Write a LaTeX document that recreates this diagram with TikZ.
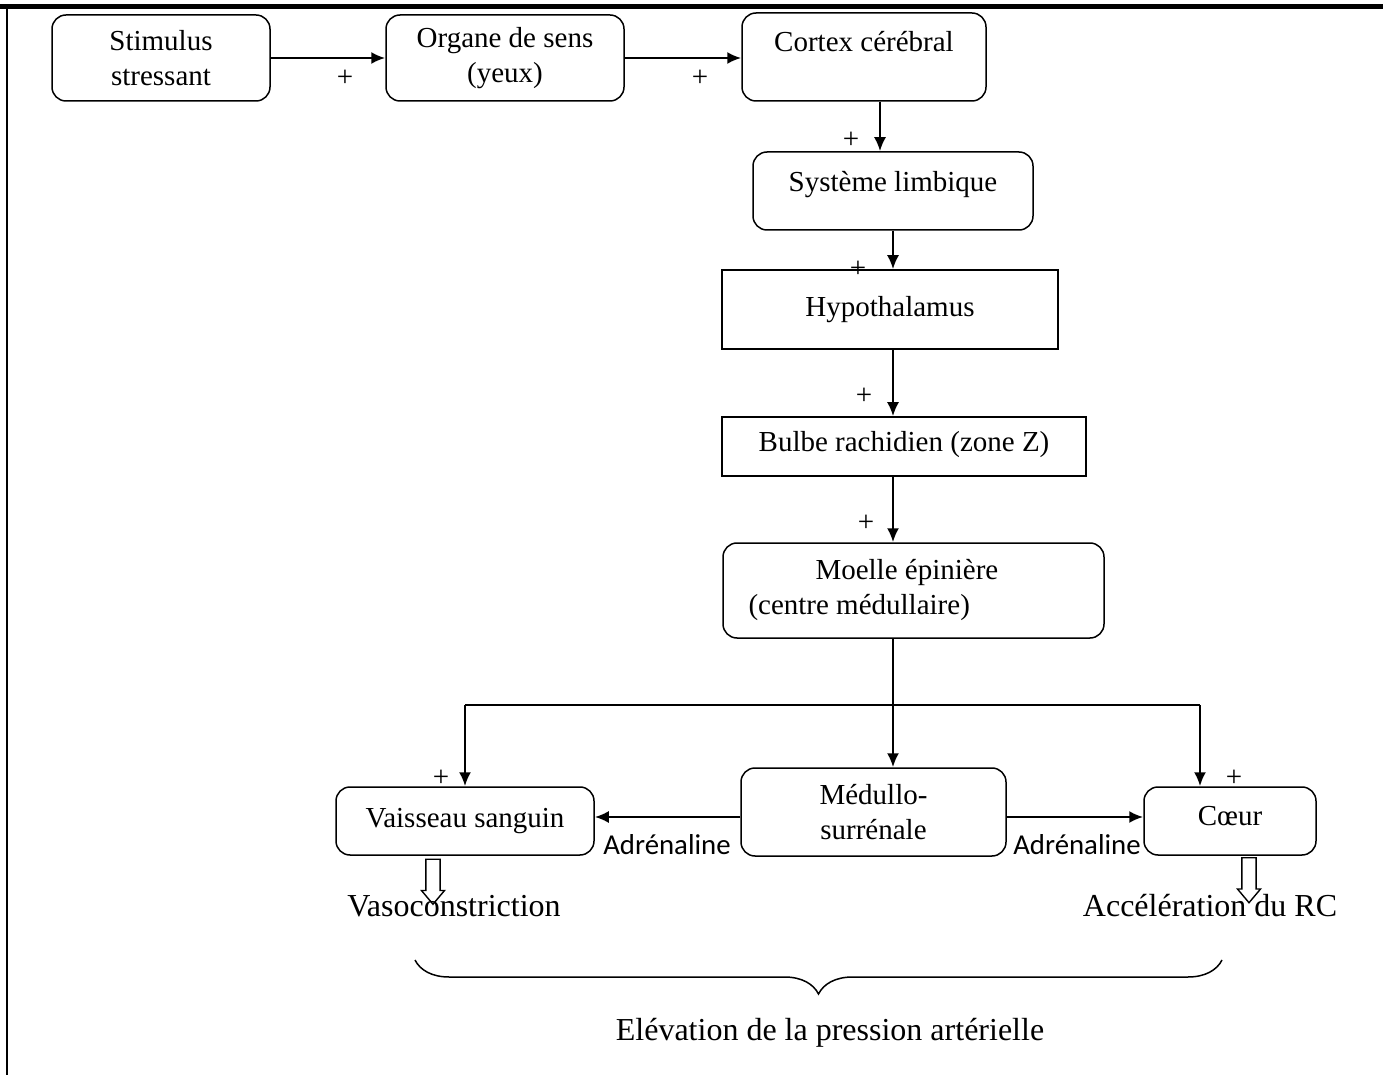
\documentclass[tikz,border=0pt]{standalone}
\usepackage{fontspec}
\setmainfont{Liberation Serif}
\newfontfamily\adrfont{Carlito}
\usetikzlibrary{arrows.meta,shapes.arrows,decorations.pathreplacing}

\begin{document}
\begin{tikzpicture}[x=0.5pt,y=-0.5pt,
    txt/.style={font=\fontsize{14.5}{17.5}\selectfont,inner sep=0pt},
    bigtxt/.style={font=\fontsize{16}{19}\selectfont,inner sep=0pt},
    box/.style={txt,draw,line width=0.75pt,rounded corners=7pt,align=center},
    sqbox/.style={box,rounded corners=0pt},
    arr/.style={line width=1.1pt,-{Latex[length=7pt,width=6pt]}},
    adr/.style={font=\adrfont\fontsize{14.4}{17}\selectfont,inner sep=0pt},
    hollow/.style={draw,line width=0.7pt,single arrow,shape border rotate=270,
      inner sep=3.2pt,minimum height=22.5pt,single arrow head extend=2.2pt,
      single arrow tip angle=80}]
  \useasboundingbox (0,0) rectangle (1383,1075);
  % frame
  \draw[line width=2.5pt] (0,7) -- (1383,7);
  \draw[line width=1pt] (7,7) -- (7,1075);

  % boxes
  \node[box,minimum width=109pt,minimum height=43pt] (stim) at (161,58) {Stimulus\\stressant};
  \node[box,minimum width=119pt,minimum height=43pt] (organe) at (505,58) {Organe de sens\\(yeux)};
  \node[box,minimum width=122pt,minimum height=44pt] (cortex) at (864,57) {Cortex cérébral\\[-7pt]\strut};
  \node[box,minimum width=140pt,minimum height=39pt,text depth=10pt] (limb) at (893,191) {Système limbique};
  \node[sqbox,minimum width=168pt,minimum height=39.5pt] (hypo) at (890,309.5) {Hypothalamus};
  \node[sqbox,minimum width=182pt,minimum height=29.5pt,text depth=5pt] (bulbe) at (904,446.5) {Bulbe rachidien (zone Z)};
  \node[box,minimum width=190.5pt,minimum height=47.5pt,text width=165pt,align=flush left] (moelle) at (913.5,590.5)
    {\hspace*{33.5pt}Moelle épinière\\(centre médullaire)};
  \node[box,minimum width=129pt,minimum height=34pt] (vaiss) at (465,821) {Vaisseau sanguin};
  \node[box,minimum width=132.5pt,minimum height=44pt] (medul) at (873.5,812) {Médullo-\\surrénale};
  \node[box,minimum width=86pt,minimum height=34pt,text depth=5pt] (coeur) at (1230,821) {Cœur};

  \coordinate (cx) at (880,0);
  \coordinate (ax) at (893,0);
  \coordinate (jn) at (893,705);
  \coordinate (jl) at (465,705);
  \coordinate (jr) at (1200,705);
  \coordinate (ay) at (0,817);

  % arrows
  \draw[arr] (stim.east) -- (organe.west);
  \draw[arr] (organe.east) -- (cortex.west |- organe.east);
  \draw[arr] (cortex.south -| cx) -- (limb.north -| cx);
  \draw[arr] (limb.south -| ax) -- (hypo.north -| ax);
  \draw[arr] (hypo.south -| ax) -- (bulbe.north -| ax);
  \draw[arr] (bulbe.south -| ax) -- (moelle.north -| ax);
  \draw[line width=1.1pt] (moelle.south -| ax) -- (jn) (jl) -- (jr);
  \draw[arr] (jl) -- (vaiss.north);
  \draw[arr] (jn) -- (medul.north -| jn);
  \draw[arr] (jr) -- (coeur.north -| jr);
  \draw[arr] (medul.west |- ay) -- (vaiss.east |- ay);
  \draw[arr] (medul.east |- ay) -- (coeur.west |- ay);

  \node[adr] (adr1) at (667,845) {Adrénaline};
  \node[adr] (adr2) at (1077,845) {Adrénaline};

  % plus signs
  \node[txt] (p1) at (345,78) {+};
  \node[txt] (p2) at (700,78) {+};
  \node[txt] (p3) at (851,140) {+};
  \node[txt] (p4) at (858,269) {+};
  \node[txt] (p5) at (864,396) {+};
  \node[txt] (p6) at (866,523) {+};
  \node[txt] (p7) at (441,778) {+};
  \node[txt] (p8) at (1234,778) {+};

  % effects
  \node[hollow] (h1) at (433,877.5) {};
  \node[hollow] (h2) at (1249,876) {};
  \node[bigtxt] (vaso) at (454,906) {Vasoconstriction};
  \node[bigtxt] (accel) at (1210,906) {Accélération du RC};

  \coordinate (b1) at (415,960);
  \coordinate (b2) at (1222,960);
  \draw[decorate,decoration={brace,mirror,amplitude=17pt},line width=0.75pt] (b1) -- (b2);
  \node[bigtxt] (elev) at (830,1033) {Elévation de la pression artérielle};
\end{tikzpicture}
\end{document}
